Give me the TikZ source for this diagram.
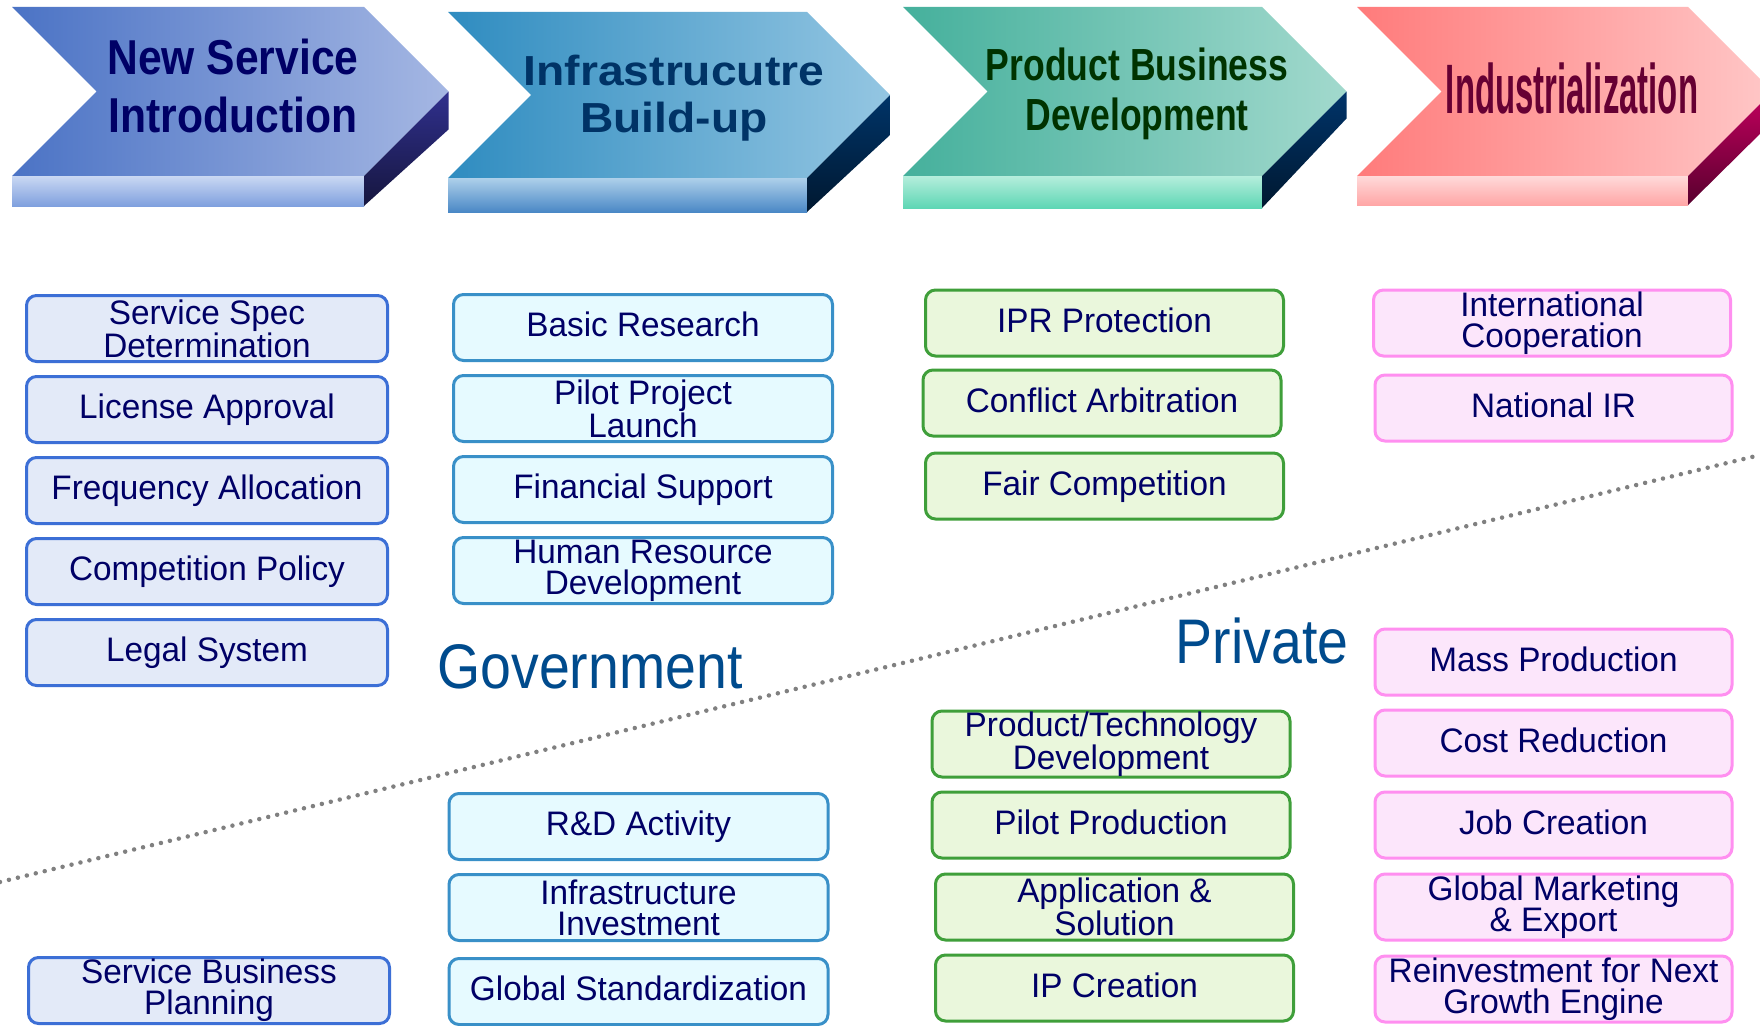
\documentclass[tikz,border=0pt]{standalone}
\usepackage{fontspec}
\setmainfont{Liberation Sans}
\newfontfamily\boxfont{Liberation Sans}[FakeStretch=0.98]
\newfontfamily\sidefont{Liberation Sans}[FakeStretch=0.88]
\newfontfamily\headfontA{Liberation Sans}[FakeStretch=0.87]
\newfontfamily\headfontB{Liberation Sans}[FakeStretch=1.1]
\newfontfamily\headfontC{Liberation Sans}[FakeStretch=0.79]
\newfontfamily\headfontD{Liberation Sans}[FakeStretch=0.47]
\usetikzlibrary{positioning}

% phase arrows
\definecolor{nsiL}{HTML}{4B73C5}\definecolor{nsiR}{HTML}{A5B7E3}
\definecolor{nsiBt}{HTML}{CAD8F3}\definecolor{nsiBb}{HTML}{7FA0DE}
\definecolor{nsiSt}{HTML}{30308E}\definecolor{nsiSb}{HTML}{16163E}
\definecolor{ibuL}{HTML}{2F8CC0}\definecolor{ibuR}{HTML}{94C6E2}
\definecolor{ibuBt}{HTML}{AED0EA}\definecolor{ibuBb}{HTML}{4A88C6}
\definecolor{ibuSt}{HTML}{003468}\definecolor{ibuSb}{HTML}{001830}
\definecolor{pbdL}{HTML}{45B09C}\definecolor{pbdR}{HTML}{A2D9CD}
\definecolor{pbdBt}{HTML}{B5EEDC}\definecolor{pbdBb}{HTML}{5ED6B4}
\definecolor{pbdSt}{HTML}{00346A}\definecolor{pbdSb}{HTML}{001830}
\definecolor{indL}{HTML}{FF7B7B}\definecolor{indR}{HTML}{FFC7C7}
\definecolor{indBt}{HTML}{FFDADA}\definecolor{indBb}{HTML}{FFA6A6}
\definecolor{indSt}{HTML}{C4005E}\definecolor{indSb}{HTML}{58002E}
% boxes
\definecolor{boxtext}{HTML}{000066}
\definecolor{govfill}{HTML}{E3EAF8}\definecolor{govline}{HTML}{3C6FD6}
\definecolor{infill}{HTML}{E6FAFF}\definecolor{inline}{HTML}{3990C8}
\definecolor{pbfill}{HTML}{EAF7DC}\definecolor{pbline}{HTML}{3F9F3A}
\definecolor{idfill}{HTML}{FCE6FB}\definecolor{idline}{HTML}{FF8FF0}
\definecolor{sidetext}{HTML}{004B8D}

% x0, x1, top, bottom, band bottom, side depth, colour prefix
\newcommand{\chevron}[7]{%
  \pgfmathsetmacro\cymid{(#3+#4)/2}
  \pgfmathsetmacro\cxtip{#2+\cymid-#3}
  \pgfmathsetmacro\cxnotch{#1+\cymid-#3}
  \pgfmathsetmacro\cyside{\cymid+#6}
  \shade[left color=#7L, right color=#7R] (#1,#3) -- (#2,#3) -- (\cxtip,\cymid)
    -- (#2,#4) -- (#1,#4) -- (\cxnotch,\cymid) -- cycle;
  \shade[top color=#7Bt, bottom color=#7Bb] (#1,#4) rectangle (#2,#5);
  \shade[top color=#7St, bottom color=#7Sb] (#2,#4) -- (\cxtip,\cymid)
    -- (\cxtip,\cyside) -- (#2,#5) -- cycle;
}

\begin{document}
\begin{tikzpicture}[x=1pt,y=-1pt,
  item/.style={draw, rounded corners=10pt, line width=3pt, minimum height=66pt,
    inner sep=0pt, align=center, text=boxtext,
    font=\boxfont\fontsize{34}{31}\selectfont, text height=25pt, text depth=7pt},
  line2/.style={text height={}, text depth={}},
  gov/.style={item, fill=govfill, draw=govline, minimum width=361pt},
  infra/.style={item, fill=infill, draw=inline, minimum width=379pt},
  prod/.style={item, fill=pbfill, draw=pbline, minimum width=358pt},
  indus/.style={item, fill=idfill, draw=idline, minimum width=357pt},
  side/.style={text=sidetext, anchor=base, inner sep=0pt,
    font=\sidefont\fontsize{63}{70}\selectfont},
  head/.style={align=center, inner sep=0pt, font=\bfseries}]

\path[use as bounding box, fill=white] (0,0) rectangle (1760,1025);
\clip (0,0) rectangle (1760,1025);

% phases
\chevron{12}{364}{7}{176}{206}{38}{nsi}
\chevron{448}{807}{12}{178}{212}{40}{ibu}
\chevron{903}{1262}{7}{176}{208}{27}{pbd}
\chevron{1357}{1688}{7}{176}{205}{30}{ind}

\node[head, text=boxtext, font=\headfontA\bfseries\fontsize{49}{58}\selectfont]
  (nsi) at (233,86) {New Service\\Introduction};
\node[head, text={rgb,255:red,0;green,51;blue,102}, font=\headfontB\bfseries\fontsize{42}{47}\selectfont]
  (ibu) at (674,98) {Infrastrucutre\\Build-up};
\node[head, text={rgb,255:red,0;green,51;blue,0}, font=\headfontC\bfseries\fontsize{45}{50}\selectfont]
  (pbd) at (1137,94) {Product Business\\Development};
\node[head, anchor=base, text={rgb,255:red,102;green,0;blue,51}, font=\headfontD\bfseries\fontsize{70}{80}\selectfont]
  (ind) at (1572,113) {Industrialization};

% government / private split
\coordinate (lo) at (0,882);
\coordinate (hi) at (1760,455);
\draw[gray, line width=4.5pt, line cap=round, dash pattern=on 0pt off 9.2pt] (lo) -- (hi);

\node[side] (govt) at (590,688) {Government};
\node[side] (priv) at (1262,663) {Private};

% new service introduction
\node[gov, line2] (spec) at (207,328.5) {Service Spec\\Determination};
\node[gov, below=12pt of spec] (license) {License Approval};
\node[gov, below=12pt of license] (freq) {Frequency Allocation};
\node[gov, below=12pt of freq] (comp) {Competition Policy};
\node[gov, below=12pt of comp] (legal) {Legal System};
\node[gov, line2] (plan) at (209,990.5) {Service Business\\Planning};

% infrastructure build-up
\node[infra] (basic) at (643,327.5) {Basic Research};
\node[infra, line2, below=12pt of basic] (pilot) {Pilot Project\\Launch};
\node[infra, below=12pt of pilot] (fin) {Financial Support};
\node[infra, line2, below=12pt of fin] (hrd) {Human Resource\\Development};
\node[infra] (rnd) at (638.5,826.5) {R\&D Activity};
\node[infra, line2, below=12pt of rnd] (invest) {Infrastructure\\Investment};
\node[infra, below=15pt of invest] (std) {Global Standardization};

% product business development
\node[prod] (ipr) at (1104.5,323) {IPR Protection};
\node[prod, below=11pt of ipr, xshift=-2.5pt] (conflict) {Conflict Arbitration};
\node[prod, below=14pt of conflict, xshift=2.5pt] (fair) {Fair Competition};
\node[prod, line2] (ptd) at (1111,744) {Product/Technology\\Development};
\node[prod, below=12pt of ptd] (pprod) {Pilot Production};
\node[prod, line2, below=13pt of pprod, xshift=3.5pt] (app) {Application \&\\Solution};
\node[prod, below=12pt of app] (ipc) {IP Creation};

% industrialization
\node[indus, line2] (intl) at (1552,323) {International\\Cooperation};
\node[indus, below=16pt of intl, xshift=1.5pt] (nir) {National IR};
\node[indus] (mass) at (1553.5,662) {Mass Production};
\node[indus, below=12pt of mass] (cost) {Cost Reduction};
\node[indus, below=13pt of cost] (job) {Job Creation};
\node[indus, line2, below=13pt of job] (gme) {Global Marketing\\\& Export};
\node[indus, line2, below=13pt of gme] (reinv) {Reinvestment for Next\\Growth Engine};
\end{tikzpicture}
\end{document}
